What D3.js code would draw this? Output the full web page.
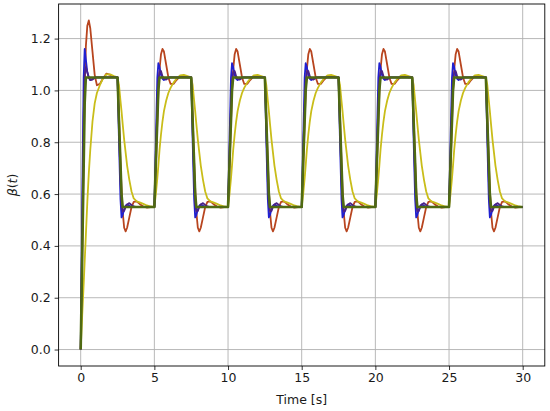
<!DOCTYPE html>
<html>
<head>
<meta charset="utf-8">
<script src="https://cdn.jsdelivr.net/npm/d3@7"></script>
<style>
  html, body { margin: 0; padding: 0; background: #fff; }
  svg { display: block; }
  text { font-family: "DejaVu Sans", sans-serif; }
</style>
</head>
<body>
<svg id="chart" width="550" height="411"></svg>
<script>
// ---- data ----
const xTicks = [0, 5, 10, 15, 20, 25, 30];
const yTicks = [0.0, 0.2, 0.4, 0.6, 0.8, 1.0, 1.2];
const xLabel = "Time [s]";

// instants where the set-point switches, and which kind of switch it is
const stepTimes = [0, 2.5, 5, 7.5, 10, 12.5, 15, 17.5, 20, 22.5, 25, 27.5];
const stepKinds = ["first", "fall", "rise", "fall", "rise", "fall", "rise", "fall", "rise", "fall", "rise", "fall"];
const endTime = 30;

// time after each switch at which the responses were read
const offsets = [0, 0.1, 0.2, 0.27, 0.35, 0.45, 0.55, 0.65, 0.8, 0.95, 1.1, 1.3, 1.5, 1.75, 2.0, 2.25];

// green (reference)
const greenFirst = [0, 0.35, 0.7, 0.95, 1.05, 1.05, 1.05, 1.05, 1.05, 1.05, 1.05, 1.05, 1.05, 1.05, 1.05, 1.05];
const greenRise  = [0.55, 0.72, 0.88, 1.0, 1.05, 1.05, 1.05, 1.05, 1.05, 1.05, 1.05, 1.05, 1.05, 1.05, 1.05, 1.05];
const greenFall  = [1.05, 0.88, 0.72, 0.6, 0.55, 0.55, 0.55, 0.55, 0.55, 0.55, 0.55, 0.55, 0.55, 0.55, 0.55, 0.55];
// blue
const blueFirst = [0, 0.55, 1.05, 1.16, 1.12, 1.07, 1.05, 1.04, 1.045, 1.05, 1.05, 1.05, 1.05, 1.05, 1.05, 1.05];
const blueRise  = [0.55, 0.8, 1.05, 1.105, 1.09, 1.06, 1.045, 1.04, 1.045, 1.05, 1.05, 1.05, 1.05, 1.05, 1.05, 1.05];
const blueFall  = [1.05, 0.8, 0.58, 0.51, 0.52, 0.54, 0.555, 0.56, 0.555, 0.55, 0.55, 0.55, 0.55, 0.55, 0.55, 0.55];
// purple
const purpleFirst = [0, 0.45, 0.9, 1.06, 1.09, 1.07, 1.05, 1.04, 1.042, 1.048, 1.05, 1.05, 1.05, 1.05, 1.05, 1.05];
const purpleRise  = [0.55, 0.75, 0.95, 1.04, 1.07, 1.075, 1.055, 1.045, 1.042, 1.048, 1.05, 1.05, 1.05, 1.05, 1.05, 1.05];
const purpleFall  = [1.05, 0.85, 0.65, 0.56, 0.535, 0.535, 0.55, 0.56, 0.565, 0.558, 0.552, 0.55, 0.55, 0.55, 0.55, 0.55];
// red
const redFirst = [0, 0.35, 0.75, 1.0, 1.17, 1.25, 1.27, 1.24, 1.15, 1.06, 1.02, 1.025, 1.045, 1.065, 1.06, 1.052];
const redRise  = [0.55, 0.7, 0.88, 0.99, 1.08, 1.14, 1.16, 1.15, 1.1, 1.05, 1.025, 1.025, 1.04, 1.055, 1.055, 1.05];
const redFall  = [1.05, 0.9, 0.72, 0.62, 0.53, 0.47, 0.456, 0.47, 0.51, 0.55, 0.57, 0.572, 0.562, 0.552, 0.548, 0.55];
// yellow
const yellowFirst = [0, 0.13, 0.25, 0.34, 0.44, 0.57, 0.68, 0.77, 0.88, 0.95, 0.99, 1.02, 1.045, 1.062, 1.062, 1.055];
const yellowRise  = [0.55, 0.6, 0.66, 0.71, 0.77, 0.83, 0.88, 0.92, 0.96, 0.99, 1.01, 1.03, 1.045, 1.058, 1.06, 1.055];
const yellowFall  = [1.05, 1.02, 0.96, 0.92, 0.87, 0.81, 0.76, 0.71, 0.655, 0.61, 0.583, 0.572, 0.568, 0.562, 0.556, 0.552];

const seriesDefs = [
  { name: "red",    shapes: { first: redFirst,    rise: redRise,    fall: redFall },    end: 0.55, color: "#b8451f", width: 1.8 },
  { name: "yellow", shapes: { first: yellowFirst, rise: yellowRise, fall: yellowFall }, end: 0.55, color: "#c9bd19", width: 1.8 },
  { name: "blue",   shapes: { first: blueFirst,   rise: blueRise,   fall: blueFall },   end: 0.55, color: "#2020d0", width: 1.8 },
  { name: "purple", shapes: { first: purpleFirst, rise: purpleRise, fall: purpleFall }, end: 0.55, color: "#4a2288", width: 1.8 },
  { name: "green",  shapes: { first: greenFirst,  rise: greenRise,  fall: greenFall },  end: 0.55, color: "#4f6a12", width: 2.6 }
];

// build the point tables
function buildSeries(def) {
  const pts = [];
  stepTimes.forEach((T, i) => {
    const shape = def.shapes[stepKinds[i]];
    offsets.forEach((o, j) => pts.push({ t: T + o, v: shape[j] }));
  });
  pts.push({ t: endTime, v: def.end });
  return pts;
}

// ---- drawing ----
const W = 550, H = 411;
const margin = { left: 58.6, right: 5.2, top: 4, bottom: 45 };
const svg = d3.select("#chart");

const x = d3.scaleLinear().domain([-1.5, 31.5]).range([margin.left, W - margin.right]);
const y = d3.scaleLinear().domain([-0.0635, 1.3335]).range([H - margin.bottom, margin.top]);

// grid
const grid = svg.append("g");
grid.selectAll("line.gx").data(xTicks).enter().append("line")
  .attr("x1", d => x(d)).attr("x2", d => x(d))
  .attr("y1", y.range()[0]).attr("y2", y.range()[1])
  .attr("stroke", "#b0b0b0").attr("stroke-width", 0.9);
grid.selectAll("line.gy").data(yTicks).enter().append("line")
  .attr("y1", d => y(d)).attr("y2", d => y(d))
  .attr("x1", x.range()[0]).attr("x2", x.range()[1])
  .attr("stroke", "#b0b0b0").attr("stroke-width", 0.9);

// lines
const line = d3.line().x(d => x(d.t)).y(d => y(d.v));
svg.append("defs").append("clipPath").attr("id", "clip").append("rect")
  .attr("x", margin.left).attr("y", margin.top)
  .attr("width", W - margin.left - margin.right).attr("height", H - margin.top - margin.bottom);
const lines = svg.append("g").attr("clip-path", "url(#clip)");
seriesDefs.forEach(def => {
  lines.append("path")
    .datum(buildSeries(def))
    .attr("d", line)
    .attr("fill", "none")
    .attr("stroke", def.color)
    .attr("stroke-width", def.width)
    .attr("stroke-linejoin", "round")
    .attr("stroke-linecap", "butt");
});

// axes
const xAxis = svg.append("g").attr("transform", `translate(0,${H - margin.bottom})`)
  .call(d3.axisBottom(x).tickValues(xTicks).tickFormat(d3.format("d")).tickSize(4).tickPadding(3));
const yAxis = svg.append("g").attr("transform", `translate(${margin.left},0)`)
  .call(d3.axisLeft(y).tickValues(yTicks).tickFormat(d3.format(".1f")).tickSize(4).tickPadding(4));
[xAxis, yAxis].forEach(a => {
  a.select(".domain").remove();
  a.selectAll(".tick line").attr("stroke", "#000").attr("stroke-width", 0.8);
  a.selectAll(".tick text").attr("fill", "#1a1a1a").style("font-size", "12.5px").style("font-family", "DejaVu Sans");
});

// frame
svg.append("rect")
  .attr("x", margin.left).attr("y", margin.top)
  .attr("width", W - margin.left - margin.right).attr("height", H - margin.top - margin.bottom)
  .attr("fill", "none").attr("stroke", "#000").attr("stroke-width", 0.9);

// labels
svg.append("text")
  .attr("x", (x.range()[0] + x.range()[1]) / 2).attr("y", 404)
  .attr("text-anchor", "middle").attr("fill", "#1a1a1a").style("font-size", "12.5px")
  .text(xLabel);

const yl = svg.append("text")
  .attr("transform", `translate(17,${(y.range()[0] + y.range()[1]) / 2}) rotate(-90)`)
  .attr("text-anchor", "middle").attr("fill", "#1a1a1a").style("font-size", "12.5px");
yl.append("tspan").style("font-style", "italic").text("β");
yl.append("tspan").text("(");
yl.append("tspan").style("font-style", "italic").text("t");
yl.append("tspan").text(")");
</script>
</body>
</html>
